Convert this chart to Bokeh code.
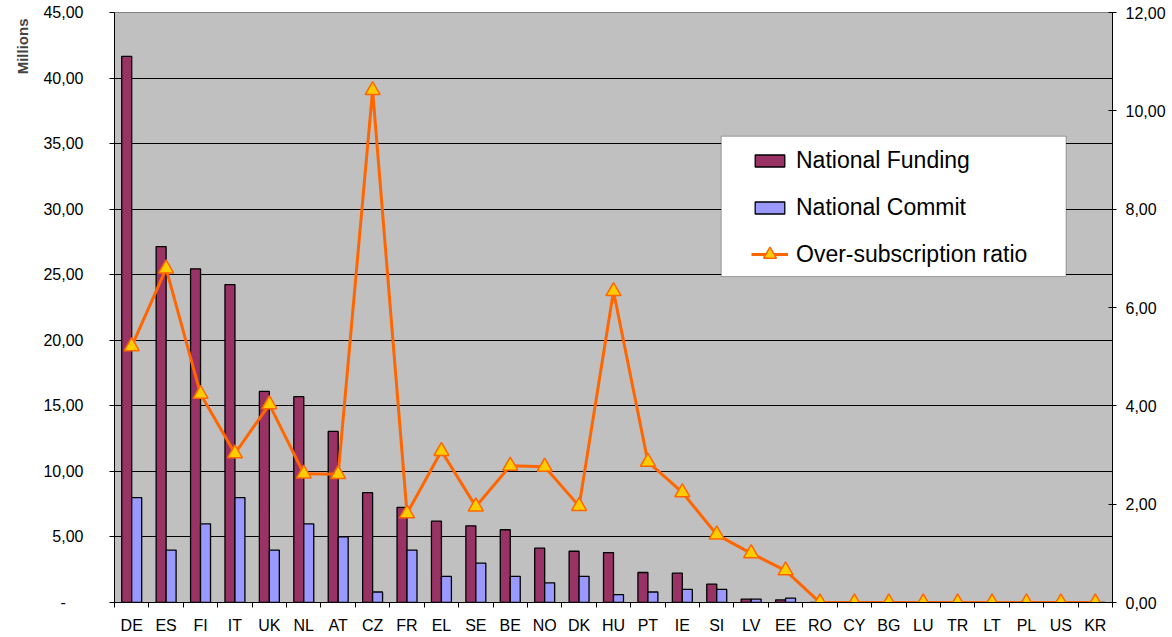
from bokeh.plotting import figure
from bokeh.models import (Range1d, LinearAxis, FixedTicker, CustomJSTickFormatter,
                          Legend, LegendItem, Title, BoxAnnotation, ColumnDataSource)
from bokeh.embed import file_html
from bokeh.resources import INLINE

countries = ["DE", "ES", "FI", "IT", "UK", "NL", "AT", "CZ", "FR", "EL", "SE", "BE", "NO", "DK",
             "HU", "PT", "IE", "SI", "LV", "EE", "RO", "CY", "BG", "LU", "TR", "LT", "PL", "US", "KR"]
funding = [41.65, 27.15, 25.45, 24.25, 16.10, 15.70, 13.05, 8.38, 7.25, 6.20, 5.85, 5.55, 4.14, 3.91,
           3.81, 2.29, 2.24, 1.40, 0.25, 0.20, 0, 0, 0, 0, 0, 0, 0, 0, 0]
commit = [8.0, 4.0, 6.0, 8.0, 4.0, 6.0, 5.0, 0.80, 4.0, 2.0, 3.0, 2.0, 1.5, 2.0,
          0.60, 0.80, 1.0, 1.0, 0.25, 0.33, 0, 0, 0, 0, 0, 0, 0, 0, 0]
ratio = [5.21, 6.79, 4.24, 3.03, 4.03, 2.62, 2.61, 10.42, 1.81, 3.08, 1.95, 2.78, 2.76, 1.96,
         6.33, 2.86, 2.24, 1.38, 1.00, 0.65, 0, 0, 0, 0, 0, 0, 0, 0, 0]

FONT = "Liberation Sans"
n = len(countries)
pos = [i + 0.5 for i in range(n)]
src = ColumnDataSource(dict(
    x=pos,
    xf=[v - 0.145 for v in pos],
    xc=[v + 0.145 for v in pos],
    funding=funding, commit=commit, ratio=ratio,
))

p = figure(width=1168, height=636, x_range=Range1d(0, n), y_range=Range1d(0, 45),
           output_backend="svg", toolbar_location=None,
           min_border_left=114, min_border_right=56, min_border_top=12, min_border_bottom=34)
p.extra_y_ranges = {"ratio": Range1d(0, 12)}
p.background_fill_color = "#C0C0C0"
p.border_fill_color = "white"
p.outline_line_color = "#808080"
p.outline_line_width = 1

# bars
r_fund = p.vbar(x="xf", top="funding", width=0.29, source=src, fill_color="#993366",
                line_color="black", line_width=1.3)
r_comm = p.vbar(x="xc", top="commit", width=0.29, source=src, fill_color="#9999FF",
                line_color="black", line_width=1.3)
r_line = p.line(x="x", y="ratio", source=src, y_range_name="ratio", line_color="#FF6600",
                line_width=3)
r_mark = p.scatter(x="x", y="ratio", source=src, y_range_name="ratio", marker="triangle",
                   size=15, fill_color="#FFCC00", line_color="#FF6600", line_width=1.5)

# x axis
p.xaxis.ticker = FixedTicker(ticks=pos, minor_ticks=list(range(n + 1)))
p.xaxis.formatter = CustomJSTickFormatter(args=dict(labels=countries),
                                          code="return labels[Math.floor(tick)];")
p.xaxis.major_tick_in = 0
p.xaxis.major_tick_out = 0
p.xaxis.minor_tick_in = 0
p.xaxis.minor_tick_out = 5
p.xaxis.minor_tick_line_color = "black"
p.xaxis.major_label_standoff = 9
p.xaxis.axis_line_color = "black"

# left axis
left_ticks = list(range(0, 46, 5))
p.yaxis.ticker = FixedTicker(ticks=left_ticks)
p.yaxis.formatter = CustomJSTickFormatter(
    code="if (tick == 0) { return '-\u2007\u2007'; } return tick.toFixed(2).replace('.', ',');")
p.yaxis.major_tick_in = 0
p.yaxis.major_tick_out = 5
p.yaxis.major_label_standoff = 26
p.yaxis.axis_line_color = "black"
p.yaxis.major_tick_line_color = "black"

# right axis
right_ticks = list(range(0, 13, 2))
ax_r = LinearAxis(y_range_name="ratio", ticker=FixedTicker(ticks=right_ticks),
                  formatter=CustomJSTickFormatter(code="return tick.toFixed(2).replace('.', ',');"))
ax_r.major_tick_in = 4
ax_r.major_tick_out = 4
ax_r.major_label_standoff = 9
ax_r.axis_line_color = "black"
ax_r.major_tick_line_color = "black"
p.add_layout(ax_r, "right")

for ax in [p.xaxis[0], p.yaxis[0], ax_r]:
    ax.major_label_text_font = FONT
    ax.major_label_text_font_size = "16px"
    ax.major_label_text_color = "black"

# grid
p.xgrid.visible = False
p.ygrid.ticker = FixedTicker(ticks=list(range(5, 45, 5)))
p.ygrid.grid_line_color = "black"
p.ygrid.grid_line_width = 1

# "Millions" title on the left
t = Title(text="Millions", align="right", text_font=FONT, text_font_size="15px",
          text_font_style="bold", standoff=20, offset=6)
p.add_layout(t, "left")

# legend box and legends
box = BoxAnnotation(left=17.63, right=27.65, top=35.56, bottom=24.86, fill_color="white",
                    fill_alpha=1, line_color="black", line_width=1)
p.add_layout(box)


def style_legend(lg):
    lg.background_fill_alpha = 0
    lg.border_line_alpha = 0
    lg.padding = 0
    lg.margin = 0
    lg.glyph_width = 37
    lg.label_standoff = 8
    lg.label_text_font = FONT
    lg.label_text_font_size = "23px"
    lg.label_text_color = "black"


legend1 = Legend(items=[
    LegendItem(label="National Funding", renderers=[r_fund]),
    LegendItem(label="National Commit", renderers=[r_comm]),
], location=(637, 381), orientation="vertical")
style_legend(legend1)
legend1.spacing = 20
legend1.glyph_height = 15
p.add_layout(legend1)

legend2 = Legend(items=[
    LegendItem(label="Over-subscription ratio", renderers=[r_line, r_mark]),
], location=(637, 332), orientation="vertical")
style_legend(legend2)
legend2.glyph_height = 32
p.add_layout(legend2)

open("out.html", "w").write(file_html(p, INLINE))
